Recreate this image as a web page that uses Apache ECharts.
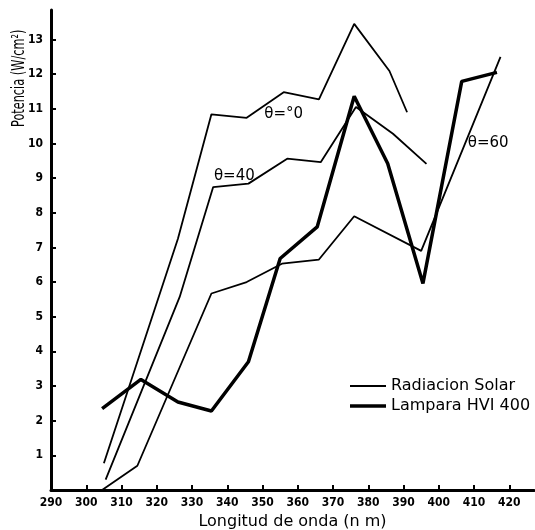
<!DOCTYPE html>
<html>
<head>
<meta charset="utf-8">
<script src="https://cdn.jsdelivr.net/npm/echarts@6/dist/echarts.min.js"></script>
<style>
  html, body { margin: 0; padding: 0; background: #fff; }
  #main { width: 535px; height: 530px; }
</style>
</head>
<body>
<div id="main"></div>
<script>
// curves (wavelength in nm, power in W/cm2)
const theta0X = [305, 326, 335.5, 345.5, 356, 366, 376, 386, 391]
const theta0Y = [0.77, 7.25, 10.84, 10.74, 11.48, 11.27, 13.45, 12.09, 10.9]
const theta40X = [305.5, 326.5, 336, 346, 357, 366.5, 376.5, 387, 396.5]
const theta40Y = [0.3, 5.57, 8.74, 8.84, 9.56, 9.46, 11.05, 10.28, 9.41]
const theta60X = [304.5, 314.5, 335.5, 345.5, 355.5, 366, 376, 395, 417.5]
const theta60Y = [0, 0.7, 5.67, 6.0, 6.53, 6.65, 7.9, 6.9, 12.5]
const lampX = [304.5, 315.5, 326, 335.5, 346, 355, 365.5, 376, 385.5, 395.5, 406.5, 416.5]
const lampY = [2.35, 3.19, 2.54, 2.28, 3.7, 6.68, 7.59, 11.36, 9.42, 5.96, 11.79, 12.05]

const xTicks = [290, 300, 310, 320, 330, 340, 350, 360, 370, 380, 390, 400, 410, 420]
const yTicks = [1, 2, 3, 4, 5, 6, 7, 8, 9, 10, 11, 12, 13]

// curve labels: [text, x, y]
const curveNotes = [
  ['θ=°0', 356, 10.84],
  ['θ=40', 342, 9.06],
  ['θ=60', 414, 10.0]
]

const pairs = (xs, ys) => xs.map((x, i) => [x, ys[i]])

const thin = (name, data, notes) => ({
  name: name,
  type: 'line',
  data: data,
  symbol: 'none',
  lineStyle: { color: '#000', width: 1.8 },
  itemStyle: { color: '#000' },
  markPoint: {
    symbol: 'circle',
    symbolSize: 0,
    label: {
      show: true,
      formatter: p => p.name,
      color: '#000',
      fontSize: 15,
      fontFamily: 'DejaVu Sans'
    },
    data: notes.map(n => ({ name: n[0], coord: [n[1], n[2]] }))
  }
})

const legendText = { color: '#000', fontSize: 16, fontFamily: 'DejaVu Sans' }
const tickFont = { color: '#000', fontSize: 12, fontWeight: 'bold', fontFamily: 'DejaVu Sans Condensed' }

const myChart = echarts.init(document.getElementById('main'))
myChart.setOption({
  animation: false,
  backgroundColor: '#fff',
  grid: { left: 51, right: 1, top: 10, bottom: 40, outerBoundsMode: 'none', containLabel: false },
  legend: [{
    left: 345,
    top: 373,
    icon: 'rect',
    itemWidth: 36,
    itemHeight: 2,
    data: ['Radiacion Solar'],
    textStyle: legendText
  }, {
    left: 345,
    top: 393,
    icon: 'rect',
    itemWidth: 36,
    itemHeight: 3.5,
    data: ['Lampara HVI 400'],
    textStyle: legendText
  }],
  xAxis: {
    type: 'value',
    min: 290,
    max: 427,
    interval: 10,
    name: 'Longitud de onda (n m)',
    nameLocation: 'middle',
    nameGap: 22,
    nameTextStyle: { color: '#000', fontSize: 16, fontFamily: 'DejaVu Sans' },
    axisLine: { lineStyle: { color: '#000', width: 3 } },
    axisTick: { inside: true, length: 5, lineStyle: { color: '#000', width: 2 }, customValues: xTicks.slice(1) },
    axisLabel: Object.assign({ margin: 7, customValues: xTicks }, tickFont),
    splitLine: { show: false }
  },
  yAxis: {
    type: 'value',
    min: 0,
    max: 13.85,
    interval: 1,
    axisLine: { show: true, lineStyle: { color: '#000', width: 3 } },
    axisTick: { show: true, inside: true, length: 5, lineStyle: { color: '#000', width: 2 }, customValues: yTicks },
    axisLabel: Object.assign({ margin: 8, customValues: yTicks }, tickFont),
    splitLine: { show: false }
  },
  graphic: [{
    type: 'text',
    x: 11,
    y: 127,
    rotation: Math.PI / 2,
    scaleX: 0.74,
    style: {
      text: 'Potencia (W/cm²)',
      fill: '#000',
      fontSize: 17,
      fontFamily: 'DejaVu Sans Condensed'
    }
  }],
  series: [
    thin('Radiacion Solar', pairs(theta0X, theta0Y), [curveNotes[0]]),
    thin('Radiacion Solar', pairs(theta40X, theta40Y), [curveNotes[1]]),
    thin('Radiacion Solar', pairs(theta60X, theta60Y), [curveNotes[2]]),
    {
      name: 'Lampara HVI 400',
      type: 'line',
      data: pairs(lampX, lampY),
      symbol: 'none',
      lineStyle: { color: '#000', width: 3.5 },
      itemStyle: { color: '#000' }
    }
  ]
})
</script>
</body>
</html>
